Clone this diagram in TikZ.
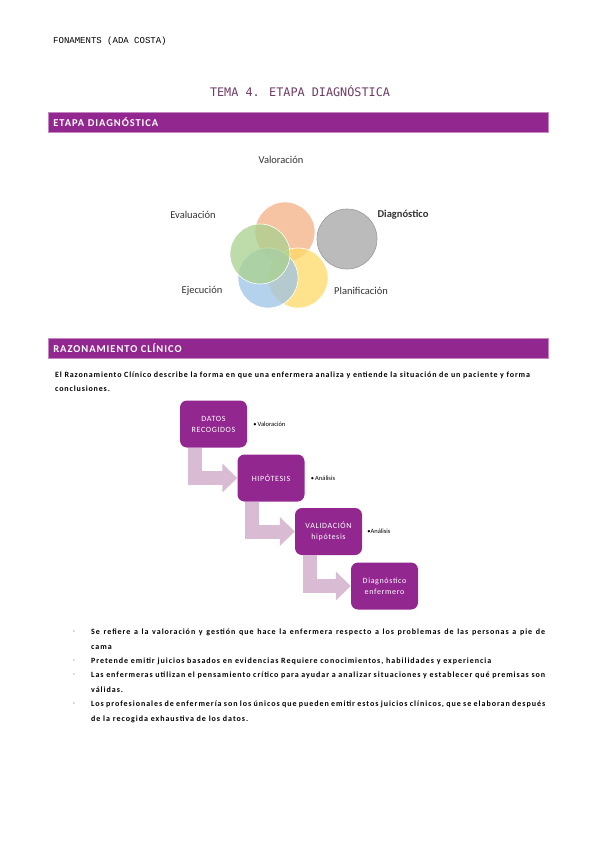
\documentclass[tikz,border=0pt]{standalone}
\usepackage{fontspec}
\setmainfont{Carlito}
\newfontfamily\headfont{Liberation Mono}
\newfontfamily\titlefont{DejaVu Sans Mono}
\usetikzlibrary{arrows.meta}
\definecolor{barpurple}{HTML}{92278F}
\definecolor{titlepurple}{HTML}{6F3B67}
\definecolor{arrowpink}{HTML}{D9BBD4}
\definecolor{cvalor}{HTML}{F4B183}
\definecolor{cdiag}{HTML}{A5A5A5}
\definecolor{cplan}{HTML}{FFD966}
\definecolor{cejec}{HTML}{9DC3E6}
\definecolor{ceval}{HTML}{A9D18E}
\tikzset{
    secbar/.style={fill=barpurple, draw=barpurple!55, line width=0.8pt, anchor=west,
        minimum height=20pt, text width=490pt, inner xsep=5pt, align=left,
        text=white, font=\bfseries\fontsize{10.5}{11}\selectfont\addfontfeatures{LetterSpace=9}},
    stepbox/.style={fill=barpurple, rounded corners=7pt, minimum width=67pt,
        minimum height=47pt, text width=62pt, align=center, text=white, inner sep=2pt,
        font=\fontsize{8}{11}\selectfont\addfontfeatures{LetterSpace=8}},
    note/.style={anchor=west, inner sep=0pt, font=\fontsize{6.5}{7}\selectfont},
    petal/.style={circle, fill opacity=0.75, draw=white, line width=0.6pt, minimum size=60pt},
    venntxt/.style={inner sep=0pt, font=\fontsize{10.5}{12}\selectfont, text=black!80},
    bentarrow/.style={draw=arrowpink, line width=14pt, -{Triangle[width=28pt,length=15pt]}},
    itemtxt/.style={anchor=north west, inner sep=0pt, text width=454pt, align=justify,
        font=\bfseries\fontsize{8}{14.3}\selectfont\addfontfeatures{LetterSpace=12}},
    dashmark/.style={inner sep=0pt, font=\fontsize{7}{8}\selectfont, text=black!60}
}
\begin{document}
\begin{tikzpicture}[x=1pt,y=-1pt]
    \useasboundingbox[fill=white] (0,0) rectangle (599,848);

    \node (head) at (53,41) [anchor=west, inner sep=0pt] {\headfont\fontsize{9}{10}\selectfont FONAMENTS (ADA COSTA)};
    \node (tema) at (300,91) [inner sep=0pt, text=titlepurple] {\titlefont\fontsize{11.8}{13}\selectfont TEMA 4. ETAPA DIAGNÓSTICA};

    \node (bar1) at (48,122) [secbar] {ETAPA DIAGNÓSTICA};

    \node (valor) at (285,232) [petal, fill=cvalor] {};
    \node (diag) at (347,239) [petal, fill=cdiag, draw=black!40] {};
    \node (plan) at (298,278) [petal, fill=cplan] {};
    \node (ejec) at (268,278) [petal, fill=cejec] {};
    \node (eval) at (260,254) [petal, fill=ceval] {};

    \node (tvalor) at (281,160) [venntxt] {Valoración};
    \node (tdiag) at (403,215) [venntxt] {\bfseries Diagnóstico};
    \node (teval) at (193,215) [venntxt] {Evaluación};
    \node (tejec) at (202,291) [venntxt] {Ejecución};
    \node (tplan) at (361,291) [venntxt] {Planificación};

    \node (bar2) at (48,348) [secbar] {RAZONAMIENTO CLÍNICO};

    \node (intro) at (55,372) [itemtxt, text width=520pt, align=left,
        font=\bfseries\fontsize{8}{14}\selectfont\addfontfeatures{LetterSpace=10.5}] {El Razonamiento Clínico describe la forma en que una enfermera analiza y entiende la situación de un paciente y forma\\conclusiones.};

    \node (s1) at (213.5,424) [stepbox] {DATOS\\RECOGIDOS};
    \node (s2) at (271,478) [stepbox] {HIPÓTESIS};
    \node (s3) at (328.5,531.5) [stepbox] {VALIDACIÓN\\hipótesis};
    \node (s4) at (384.5,586) [stepbox] {Diagnóstico\\enfermero};

    \draw[bentarrow] ([xshift=15pt]s1.south west) |- (s2.west);
    \draw[bentarrow] ([xshift=15pt]s2.south west) |- (s3.west);
    \draw[bentarrow] ([xshift=15pt]s3.south west) |- (s4.west);

    \node (n1) at (s1.east) [note, xshift=6pt] {\textbullet\,Valoración};
    \node (n2) at (s2.east) [note, xshift=6pt] {\textbullet\,Análisis};
    \node (n3) at (s3.east) [note, xshift=5pt] {\textbullet Análisis};

    \node (i1) at (91,629) [itemtxt] {Se refiere a la valoración y gestión que hace la enfermera respecto a los problemas de las personas a pie de\linebreak cama};
    \node (i2) at (91,658) [itemtxt] {Pretende emitir juicios basados en evidencias Requiere conocimientos, habilidades y experiencia};
    \node (i3) at (91,672) [itemtxt] {Las enfermeras utilizan el pensamiento crítico para ayudar a analizar situaciones y establecer qué premisas son\linebreak válidas.};
    \node (i4) at (91,701) [itemtxt] {Los profesionales de enfermería son los únicos que pueden emitir estos juicios clínicos, que se elaboran después\linebreak de la recogida exhaustiva de los datos.};

    \foreach \y in {632, 661, 675, 704}
        {
            \node at (74,\y) [dashmark] {-};
        }
\end{tikzpicture}
\end{document}
